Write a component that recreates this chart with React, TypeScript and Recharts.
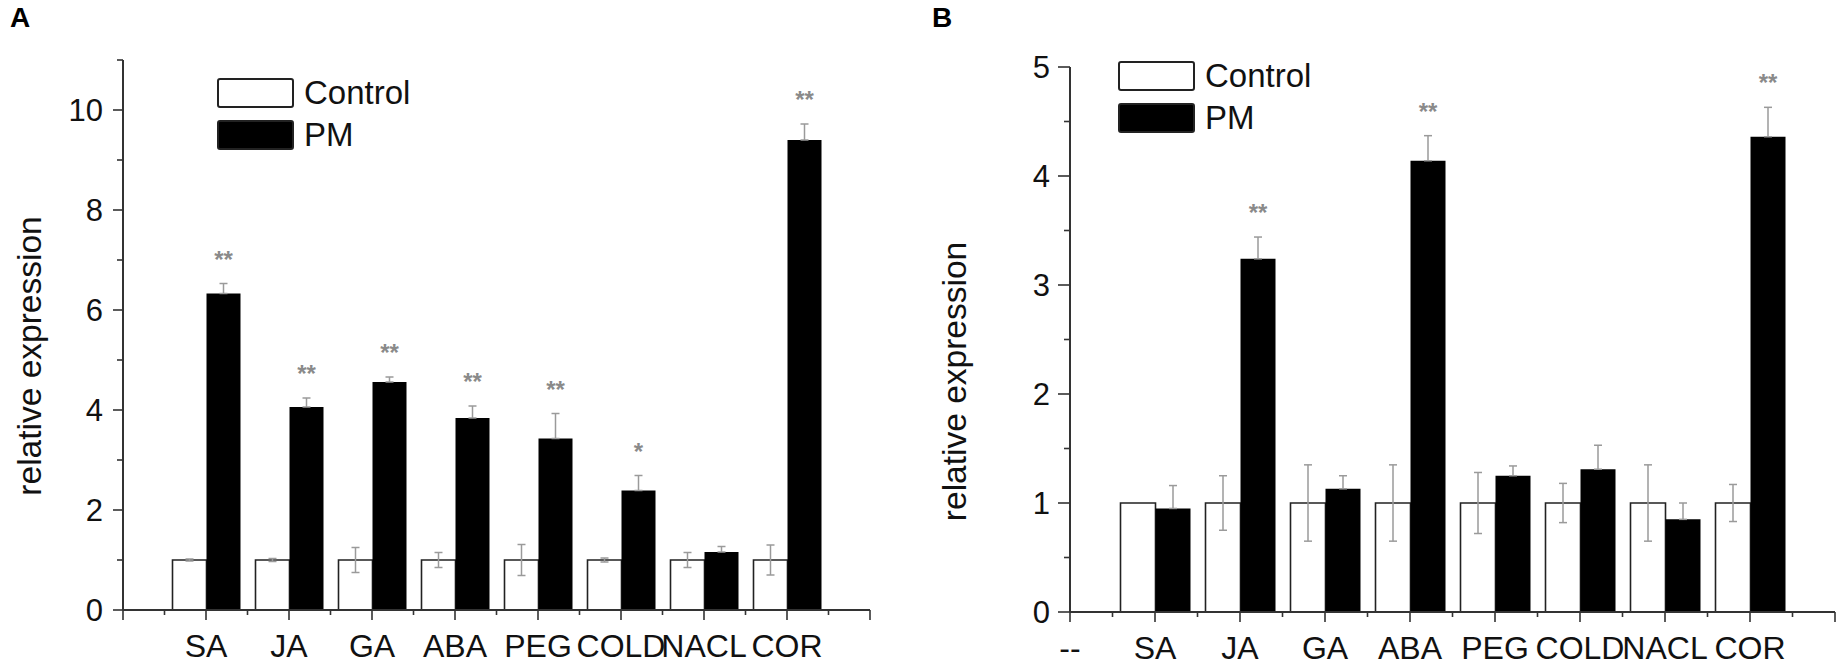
import React from 'react';
import { ComposedChart, Bar, XAxis, YAxis, ErrorBar, LabelList, Legend } from 'recharts';

// ---------- data ----------
const categories = ['SA', 'JA', 'GA', 'ABA', 'PEG', 'COLD', 'NACL', 'COR'];
const categoryPositions = [1, 2, 3, 4, 5, 6, 7, 8];
const seriesNames = ['Control', 'PM'];

// Panel A
const controlA = [1, 1, 1, 1, 1, 1, 1, 1];
const controlErrA = [0.02, 0.03, 0.25, 0.15, 0.31, 0.04, 0.15, 0.3];
const pmA = [6.33, 4.06, 4.56, 3.84, 3.43, 2.39, 1.16, 9.4];
const pmErrA = [0.2, 0.18, 0.1, 0.24, 0.5, 0.3, 0.11, 0.32];
const starsA = ['**', '**', '**', '**', '**', '*', '', '**'];

// Panel B
const controlB = [1, 1, 1, 1, 1, 1, 1, 1];
const controlErrB = [0, 0.25, 0.35, 0.35, 0.28, 0.18, 0.35, 0.17];
const pmB = [0.95, 3.24, 1.13, 4.14, 1.25, 1.31, 0.85, 4.36];
const pmErrB = [0.21, 0.2, 0.12, 0.23, 0.09, 0.22, 0.15, 0.27];
const starsB = ['', '**', '', '**', '', '', '', '**'];

// axis tick labels / ticks
const xTickLabelsA = ['', 'SA', 'JA', 'GA', 'ABA', 'PEG', 'COLD', 'NACL', 'COR', ''];
const xTickLabelsB = ['--', 'SA', 'JA', 'GA', 'ABA', 'PEG', 'COLD', 'NACL', 'COR', ''];
const xTicks = [0, 0.5, 1, 1.5, 2, 2.5, 3, 3.5, 4, 4.5, 5, 5.5, 6, 6.5, 7, 7.5, 8, 8.5, 9];
const xDomain: [number, number] = [0, 9];
const yTicksA = [0, 1, 2, 3, 4, 5, 6, 7, 8, 9, 10, 11];
const yTicksB = [0, 0.5, 1, 1.5, 2, 2.5, 3, 3.5, 4, 4.5, 5];

const FONT = "'Liberation Sans', Arial, Helvetica, sans-serif";

type Row = {
  cat: string;
  pos: number;
  control: number;
  controlErr: number;
  pm: number;
  pmErr: number[];
  pmErrUp: number;
  star: string;
};

const buildRows = (
  ctrl: number[],
  ctrlErr: number[],
  pm: number[],
  pmErr: number[],
  stars: string[]
): Row[] =>
  categories.map((cat, i) => ({
    cat,
    pos: categoryPositions[i],
    control: ctrl[i],
    controlErr: ctrlErr[i],
    pm: pm[i],
    pmErr: [0, pmErr[i]],
    pmErrUp: pmErr[i],
    star: stars[i],
  }));

const rowsA = buildRows(controlA, controlErrA, pmA, pmErrA, starsA);
const rowsB = buildRows(controlB, controlErrB, pmB, pmErrB, starsB);

// ---------- custom pieces ----------
const makeYTick = (majorStep: number, majorLen: number) => (props: any) => {
  const { x, y, payload } = props;
  const v = payload.value;
  const r = v / majorStep;
  const major = Math.abs(r - Math.round(r)) < 1e-6;
  return (
    <g>
      <line x1={x} x2={x - (major ? majorLen : 6)} y1={y} y2={y} stroke="#333" strokeWidth={1.6} />
      {major && (
        <text x={x - 20} y={y} dy="0.36em" textAnchor="end" fontSize={31} fontFamily={FONT} fill="#111">
          {v}
        </text>
      )}
    </g>
  );
};

const makeXTick = (labels: string[]) => (props: any) => {
  const { x, y, payload } = props;
  const v = payload.value;
  const major = Math.abs(v - Math.round(v)) < 1e-6;
  const label = major ? labels[Math.round(v)] : '';
  return (
    <g>
      <line x1={x} x2={x} y1={y} y2={y + (major ? 10 : 5)} stroke="#333" strokeWidth={1.6} />
      {label ? (
        <text x={x} y={y + 47} textAnchor="middle" fontSize={32} fontFamily={FONT} fill="#111">
          {label}
        </text>
      ) : null}
    </g>
  );
};

const makeStar = (rows: Row[]) => (props: any) => {
  const { x, y, width, height, index } = props;
  const row = rows[index];
  if (!row || !row.star) return null;
  const pxPerUnit = Number(height) / row.pm;
  const errTop = Number(y) - row.pmErrUp * pxPerUnit;
  const cy = errTop - 30;
  return (
    <text
      x={Number(x) + Number(width) / 2}
      y={cy + 14}
      textAnchor="middle"
      fontSize={24}
      fontWeight="bold"
      fontFamily={FONT}
      fill="#8a8a8a"
    >
      {row.star}
    </text>
  );
};

const makeYLabel = (dx: number, dy: number) => (props: any) => {
  const vb = props.viewBox || { x: 0, y: 0, width: 0, height: 0 };
  const cx = vb.x + dx;
  const cy = vb.y + vb.height / 2 + dy;
  return (
    <text
      x={cx}
      y={cy}
      transform={`rotate(-90, ${cx}, ${cy})`}
      textAnchor="middle"
      fontSize={33.5}
      fontFamily={FONT}
      fill="#111"
    >
      relative expression
    </text>
  );
};

const LegendContent = (props: any) => {
  const { payload } = props;
  return (
    <div>
      {(payload || []).map((entry: any) => (
        <div key={entry.value} style={{ display: 'flex', alignItems: 'center', height: 42 }}>
          <div
            style={{
              width: 77,
              height: 30,
              boxSizing: 'border-box',
              border: '2px solid #222',
              borderRadius: 3,
              background: entry.color,
            }}
          />
          <span style={{ marginLeft: 10, fontSize: 33, fontFamily: FONT, color: '#111', lineHeight: '30px' }}>
            {entry.value}
          </span>
        </div>
      ))}
    </div>
  );
};

type PanelProps = {
  rows: Row[];
  width: number;
  margin: { top: number; right: number; bottom: number; left: number };
  plotHeight: number;
  yDomain: [number, number];
  yTicks: number[];
  yMajor: number;
  yMajorLen: number;
  xLabels: string[];
  barSize: number;
  bandPad: number;
  legendPos: { left: number; top: number };
  yLabelDx: number;
  yLabelDy: number;
};

const Panel = (p: PanelProps) => (
  <ComposedChart width={p.width} height={670} data={p.rows} margin={p.margin} barGap={0}>
    <XAxis
      xAxisId="num"
      dataKey="pos"
      type="number"
      domain={xDomain}
      ticks={xTicks}
      allowDataOverflow
      allowDecimals
      interval={0}
      height={670 - p.margin.top - p.margin.bottom - p.plotHeight}
      tickSize={0}
      tickMargin={0}
      tickLine={false}
      axisLine={{ stroke: '#333', strokeWidth: 2 }}
      tick={makeXTick(p.xLabels)}
    />
    <XAxis
      xAxisId="cat"
      dataKey="cat"
      type="category"
      hide
      height={0}
      padding={{ left: p.bandPad, right: p.bandPad }}
    />
    <YAxis
      type="number"
      domain={p.yDomain}
      ticks={p.yTicks}
      interval={0}
      width={60}
      allowDataOverflow
      tickSize={0}
      tickMargin={0}
      tickLine={false}
      axisLine={{ stroke: '#333', strokeWidth: 2 }}
      tick={makeYTick(p.yMajor, p.yMajorLen)}
      label={makeYLabel(p.yLabelDx, p.yLabelDy)}
    />
    <Legend
      layout="vertical"
      align="center"
      verticalAlign="middle"
      wrapperStyle={{ left: p.legendPos.left, top: p.legendPos.top, width: 'auto' }}
      content={LegendContent}
    />
    <Bar
      xAxisId="cat"
      dataKey="control"
      name={seriesNames[0]}
      fill="#ffffff"
      stroke="#222"
      strokeWidth={1.6}
      barSize={p.barSize}
      isAnimationActive={false}
    >
      <ErrorBar dataKey="controlErr" width={4} stroke="#9a9a9a" strokeWidth={1.5} direction="y" />
    </Bar>
    <Bar
      xAxisId="cat"
      dataKey="pm"
      name={seriesNames[1]}
      fill="#000000"
      barSize={p.barSize}
      isAnimationActive={false}
    >
      <ErrorBar dataKey="pmErr" width={4} stroke="#9a9a9a" strokeWidth={1.5} direction="y" />
      <LabelList dataKey="star" content={makeStar(p.rows)} />
    </Bar>
  </ComposedChart>
);

export default function App() {
  return (
    <div style={{ position: 'absolute', left: 0, top: 0, width: 1848, height: 670, background: '#fff' }}>
      <div style={{ position: 'absolute', left: 0, top: 0 }}>
        <Panel
          rows={rowsA}
          width={900}
          margin={{ top: 60, right: 30, bottom: 0, left: 63 }}
          plotHeight={550}
          yDomain={[0, 11]}
          yTicks={yTicksA}
          yMajor={2}
          yMajorLen={10}
          xLabels={xTickLabelsA}
          barSize={34}
          bandPad={41.5}
          legendPos={{ left: 217, top: 72 }}
          yLabelDx={-22}
          yLabelDy={21}
        />
      </div>
      <div style={{ position: 'absolute', left: 900, top: 0 }}>
        <Panel
          rows={rowsB}
          width={948}
          margin={{ top: 67, right: 13, bottom: 0, left: 110 }}
          plotHeight={545}
          yDomain={[0, 5]}
          yTicks={yTicksB}
          yMajor={1}
          yMajorLen={12}
          xLabels={xTickLabelsB}
          barSize={35}
          bandPad={42.5}
          legendPos={{ left: 218, top: 55 }}
          yLabelDx={-44}
          yLabelDy={42}
        />
      </div>
      <svg width={1848} height={670} style={{ position: 'absolute', left: 0, top: 0, pointerEvents: 'none' }}>
        <text x={10} y={27} fontSize={28} fontWeight="bold" fontFamily={FONT} fill="#000">
          A
        </text>
        <text x={932} y={27} fontSize={28} fontWeight="bold" fontFamily={FONT} fill="#000">
          B
        </text>
      </svg>
    </div>
  );
}
